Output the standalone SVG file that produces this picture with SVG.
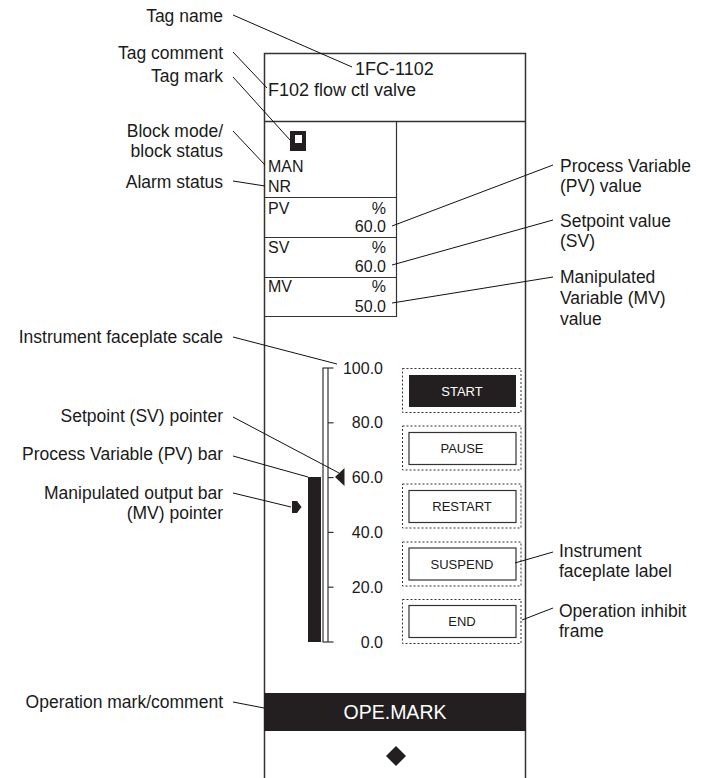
<svg xmlns="http://www.w3.org/2000/svg" width="702" height="778" viewBox="0 0 702 778">
<style>
text{font-family:"Liberation Sans",Arial,sans-serif;fill:#1a1a1a}
.lbl{font-size:17.5px}
.lblr{font-size:17.5px;text-anchor:end}
.hd{font-size:18px}
.in{font-size:16px}
.inr{font-size:16px;text-anchor:end}
.btn{font-size:13px;text-anchor:middle}
.frame{fill:none;stroke:#333;stroke-width:1.5}
.thin{fill:none;stroke:#333;stroke-width:1.2}
.dot{fill:none;stroke:#333;stroke-width:1;stroke-dasharray:2,2}
.box{fill:#fff;stroke:#333;stroke-width:1.2}
.blk{fill:#231f20}
.lead line{stroke:#111;stroke-width:1}
</style>
<rect width="702" height="778" fill="#fff"/>
<g id="faceplate">
<path class="frame" d="M264.5,778 V53.5 H525.5 V778"/>
<line class="frame" x1="264.5" y1="121.5" x2="525.5" y2="121.5"/>
</g>
<g id="header">
<text class="hd" x="355" y="75">1FC-1102</text>
<text class="hd" x="268" y="96">F102 flow ctl valve</text>
</g>
<g id="block-status">
<path class="thin" d="M396.5,121.5 V316.5 H264.5"/>
<line class="thin" x1="264.5" y1="197.5" x2="396.5" y2="197.5"/>
<rect class="blk" x="290" y="131" width="16" height="20"/>
<rect x="295" y="135" width="7" height="8" fill="#fff"/>
<text class="in" x="268" y="172">MAN</text>
<text class="in" x="268" y="192">NR</text>
</g>
<g id="pv-value">
<text class="in" x="268" y="214">PV</text>
<text class="inr" x="386" y="214">%</text>
<text class="inr" x="386" y="232">60.0</text>
<line class="thin" x1="264.5" y1="237.5" x2="396.5" y2="237.5"/>
</g>
<g id="sv-value">
<text class="in" x="268" y="253">SV</text>
<text class="inr" x="386" y="253">%</text>
<text class="inr" x="386" y="272">60.0</text>
<line class="thin" x1="264.5" y1="277.5" x2="396.5" y2="277.5"/>
</g>
<g id="mv-value">
<text class="in" x="268" y="292">MV</text>
<text class="inr" x="386" y="292">%</text>
<text class="inr" x="386" y="312">50.0</text>
</g>
<g id="scale">
<line class="thin" x1="323" y1="368" x2="323" y2="642"/>
<line class="thin" x1="328" y1="368" x2="328" y2="642"/>
<line class="thin" x1="322.5" y1="368" x2="333.5" y2="368"/>
<line class="thin" x1="328" y1="422.8" x2="333.5" y2="422.8"/>
<line class="thin" x1="328" y1="477.6" x2="333.5" y2="477.6"/>
<line class="thin" x1="328" y1="532.4" x2="333.5" y2="532.4"/>
<line class="thin" x1="328" y1="587.2" x2="333.5" y2="587.2"/>
<line class="thin" x1="322.5" y1="642" x2="333.5" y2="642"/>
<text class="inr" x="383" y="373.5">100.0</text>
<text class="inr" x="383" y="428.3">80.0</text>
<text class="inr" x="383" y="483.1">60.0</text>
<text class="inr" x="383" y="537.9">40.0</text>
<text class="inr" x="383" y="592.7">20.0</text>
<text class="inr" x="383" y="647.5">0.0</text>
</g>
<g id="pv-bar"><rect class="blk" x="308" y="477" width="13" height="165"/></g>
<g id="sv-pointer"><polygon class="blk" points="335,477 344.5,468 344.5,486"/></g>
<g id="mv-pointer"><polygon class="blk" points="292,501 297,501 301.5,507 297,513 292,513"/></g>
<g id="btn-start">
<rect class="dot" x="402.5" y="368.5" width="118.5" height="44"/>
<rect class="blk" x="409" y="375" width="107" height="32"/>
<text class="btn" x="462" y="395.5" style="fill:#fff">START</text>
</g>
<g id="btn-pause">
<rect class="dot" x="402.5" y="426" width="118.5" height="44"/>
<rect class="box" x="409" y="432.5" width="107" height="32"/>
<text class="btn" x="462" y="453">PAUSE</text>
</g>
<g id="btn-restart">
<rect class="dot" x="402.5" y="484" width="118.5" height="44"/>
<rect class="box" x="409" y="490.5" width="107" height="32"/>
<text class="btn" x="462" y="511">RESTART</text>
</g>
<g id="btn-suspend">
<rect class="dot" x="402.5" y="542" width="118.5" height="44"/>
<rect class="box" x="409" y="548" width="107" height="32"/>
<text class="btn" x="462" y="568.5">SUSPEND</text>
</g>
<g id="btn-end">
<rect class="dot" x="402.5" y="599.5" width="118.5" height="44"/>
<rect class="box" x="409" y="605.5" width="107" height="32"/>
<text class="btn" x="462" y="626">END</text>
</g>
<g id="ope-mark">
<rect class="blk" x="264" y="693" width="262" height="38"/>
<text x="395" y="719" style="font-size:19.5px;text-anchor:middle;fill:#fff">OPE.MARK</text>
<polygon class="blk" points="396,746 406,756 396,766 386,756"/>
</g>
<g id="labels">
<text class="lblr" x="223" y="22">Tag name</text>
<text class="lblr" x="223" y="59">Tag comment</text>
<text class="lblr" x="223" y="82">Tag mark</text>
<text class="lblr" x="223" y="137">Block mode/</text>
<text class="lblr" x="223" y="157">block status</text>
<text class="lblr" x="223" y="188">Alarm status</text>
<text class="lblr" x="223" y="343">Instrument faceplate scale</text>
<text class="lblr" x="223" y="422">Setpoint (SV) pointer</text>
<text class="lblr" x="223" y="460">Process Variable (PV) bar</text>
<text class="lblr" x="223" y="499">Manipulated output bar</text>
<text class="lblr" x="223" y="519">(MV) pointer</text>
<text class="lblr" x="223" y="708">Operation mark/comment</text>
<text class="lbl" x="560" y="172">Process Variable</text>
<text class="lbl" x="560" y="192">(PV) value</text>
<text class="lbl" x="560" y="227">Setpoint value</text>
<text class="lbl" x="560" y="247">(SV)</text>
<text class="lbl" x="560" y="283">Manipulated</text>
<text class="lbl" x="560" y="304">Variable (MV)</text>
<text class="lbl" x="560" y="325">value</text>
<text class="lbl" x="559" y="557">Instrument</text>
<text class="lbl" x="559" y="577">faceplate label</text>
<text class="lbl" x="559" y="617">Operation inhibit</text>
<text class="lbl" x="559" y="637">frame</text>
</g>
<g id="connectors" class="lead">
<line x1="233" y1="15" x2="352" y2="67"/>
<line x1="233" y1="52" x2="267" y2="88"/>
<line x1="233" y1="77" x2="290" y2="140"/>
<line x1="233" y1="131" x2="265" y2="165"/>
<line x1="233" y1="181" x2="265" y2="186"/>
<line x1="233" y1="337" x2="337" y2="364"/>
<line x1="233" y1="417" x2="339" y2="473"/>
<line x1="233" y1="456" x2="308" y2="477"/>
<line x1="233" y1="493" x2="291" y2="507"/>
<line x1="233" y1="702" x2="264" y2="708"/>
<line x1="392" y1="226" x2="553" y2="165"/>
<line x1="392" y1="265" x2="553" y2="220"/>
<line x1="392" y1="303" x2="553" y2="277"/>
<line x1="553" y1="552" x2="515" y2="563"/>
<line x1="553" y1="608" x2="522" y2="620"/>
</g>
</svg>
